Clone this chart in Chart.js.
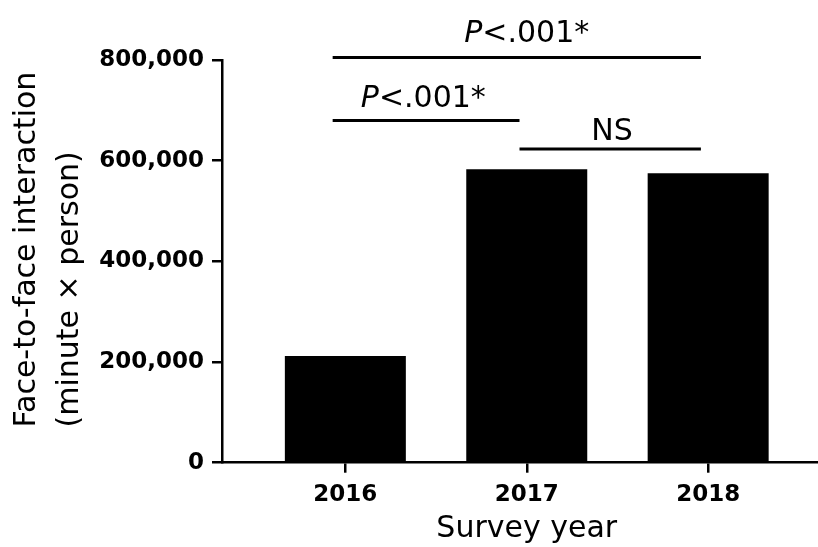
<!DOCTYPE html>
<html>
<head>
<meta charset="utf-8">
<script src="https://cdn.jsdelivr.net/npm/chart.js@4"></script>
<style>
html,body{margin:0;padding:0;background:#fff;}
#wrap{width:818px;height:547px;position:relative;}
</style>
</head>
<body>
<div id="wrap"><canvas id="c"></canvas></div>
<script>
// ---- data ----
const years = [2016, 2017, 2018];
const interaction = [212000, 583000, 575000];
const yTickValues = [0, 200000, 400000, 600000, 800000];

// significance brackets (data units)
const bracketFrom  = [2015.93, 2015.93, 2016.96];
const bracketTo    = [2017.96, 2016.96, 2017.96];
const bracketLevel = [805000, 680000, 623000];
const bracketLabelX = [2017, 2016.43, 2017.47];
const bracketLabelY = [836000, 707000, 641000];
const bracketItalic = ['P', 'P', ''];
const bracketText   = ['<.001*', '<.001*', 'NS'];

const xTitle = 'Survey year';
const yTitle = ['Face-to-face interaction', '(minute \u00D7 person)'];

const FAMILY = "'DejaVu Sans', sans-serif";

const overlay = {
  id: 'overlay',
  afterDraw(chart) {
    const ctx = chart.ctx;
    const x = chart.scales.x, y = chart.scales.y;
    ctx.save();
    ctx.strokeStyle = '#000';
    ctx.fillStyle = '#000';
    ctx.lineWidth = 3;
    ctx.lineCap = 'butt';
    ctx.textBaseline = 'alphabetic';
    ctx.textAlign = 'left';
    const reg = '30px ' + FAMILY;
    const ita = 'italic 30px ' + FAMILY;
    for (let i = 0; i < bracketLevel.length; i++) {
      const py = y.getPixelForValue(bracketLevel[i]);
      ctx.beginPath();
      ctx.moveTo(x.getPixelForValue(bracketFrom[i]), py);
      ctx.lineTo(x.getPixelForValue(bracketTo[i]), py);
      ctx.stroke();
      ctx.font = ita;
      const w1 = ctx.measureText(bracketItalic[i]).width;
      ctx.font = reg;
      const w2 = ctx.measureText(bracketText[i]).width;
      const cx = x.getPixelForValue(bracketLabelX[i]);
      const by = y.getPixelForValue(bracketLabelY[i]);
      const sx = cx - (w1 + w2) / 2;
      ctx.font = ita;
      ctx.fillText(bracketItalic[i], sx, by);
      ctx.font = reg;
      ctx.fillText(bracketText[i], sx + w1, by);
    }
    // x title
    ctx.font = reg;
    ctx.textAlign = 'center';
    ctx.fillText(xTitle, x.getPixelForValue(2017), 537);
    // y title (rotated, start aligned)
    ctx.textAlign = 'left';
    const baseX = [35, 78];
    for (let k = 0; k < yTitle.length; k++) {
      ctx.save();
      ctx.translate(baseX[k], 427.5);
      ctx.rotate(-Math.PI / 2);
      ctx.fillText(yTitle[k], 0, 0);
      ctx.restore();
    }
    ctx.restore();
  }
};

const axisGrid = { display: true, offset: false, drawOnChartArea: false, drawTicks: true, tickLength: 10, color: '#000', lineWidth: 2.5 };
const axisBorder = { display: true, color: '#000', width: 2.5 };
const tickFont = { family: FAMILY, size: 23, weight: 'bold' };

new Chart(document.getElementById('c'), {
  type: 'bar',
  data: {
    datasets: [{
      data: years.map((v, i) => ({ x: v, y: interaction[i] })),
      backgroundColor: '#000',
      borderWidth: 0,
      barPercentage: 0.667,
      categoryPercentage: 1
    }]
  },
  options: {
    responsive: true,
    maintainAspectRatio: false,
    animation: false,
    layout: { padding: { top: 60, right: 1, left: 0, bottom: 0 } },
    plugins: { legend: { display: false }, tooltip: { enabled: false } },
    scales: {
      x: {
        type: 'linear',
        offset: false,
        min: 2015.32,
        max: 2018.6,
        grid: axisGrid,
        border: axisBorder,
        ticks: { color: '#000', font: tickFont, padding: 9, autoSkip: false, maxRotation: 0, callback: v => String(v) },
        afterBuildTicks: s => { s.ticks = years.map(v => ({ value: v })); },
        afterFit: s => { s.height = 84.3; }
      },
      y: {
        type: 'linear',
        min: 0,
        max: 800000,
        grid: axisGrid,
        border: axisBorder,
        ticks: { color: '#000', font: tickFont, padding: 8, callback: v => Number(v).toLocaleString('en-US') },
        afterBuildTicks: s => { s.ticks = yTickValues.map(v => ({ value: v })); },
        afterFit: s => { s.width = 222; }
      }
    }
  },
  plugins: [overlay]
});
</script>
</body>
</html>
